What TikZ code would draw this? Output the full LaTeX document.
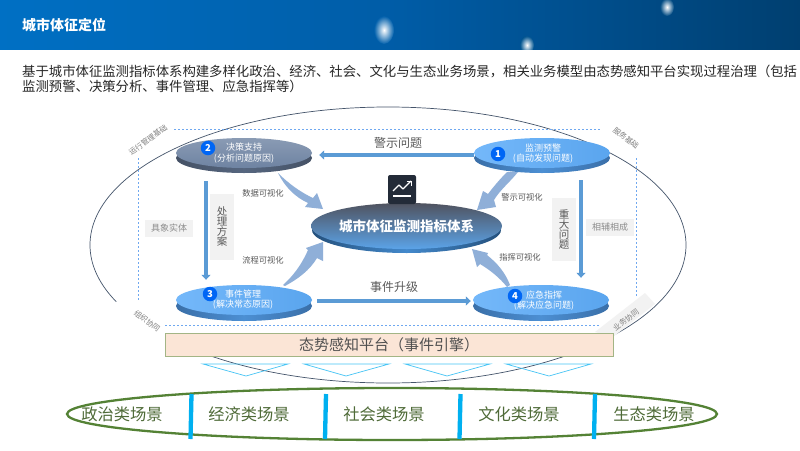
\documentclass[tikz,border=0pt]{standalone}
\usepackage{fontspec}
\setmainfont{Noto Sans CJK SC}
\usetikzlibrary{shapes.geometric,arrows.meta,calc}
\definecolor{flow}{HTML}{5B9BD5}
\definecolor{blockarrow}{HTML}{8FAFD8}
\definecolor{dotblue}{HTML}{6FA8F0}
\definecolor{greytxt}{HTML}{595959}
\definecolor{pale}{HTML}{F2F2F2}
\definecolor{scene}{HTML}{4F6B38}
\definecolor{barblue}{HTML}{00B0F0}
\definecolor{cyantriline}{HTML}{45C4F5}
\definecolor{HeaderA}{HTML}{0070C4}
\definecolor{HeaderM}{HTML}{005CA6}
\definecolor{HeaderB}{HTML}{003F70}
\definecolor{HeaderS1}{HTML}{005FAB}
\definecolor{HeaderS2}{HTML}{00538F}
\definecolor{HeaderS3}{HTML}{004A82}
\definecolor{HeaderRing}{HTML}{44546A}
\definecolor{RimGrey}{HTML}{56667F}
\definecolor{DiscGreyA}{HTML}{8A9BB4}
\definecolor{DiscGreyB}{HTML}{6E83A2}
\definecolor{RimBlue}{HTML}{4C8FD3}
\definecolor{RimEdge}{HTML}{3A6FA8}
\definecolor{DiscBlueA}{HTML}{74B8FA}
\definecolor{DiscBlueB}{HTML}{5AA5EE}
\definecolor{CentreRim}{HTML}{4389CC}
\definecolor{CentreRimEdge}{HTML}{24507C}
\definecolor{CentreA}{HTML}{50535F}
\definecolor{CentreB}{HTML}{5BA3E8}
\definecolor{IconDark}{HTML}{232B38}
\definecolor{BadgeBlue}{HTML}{0066F5}
\definecolor{PlatformEdge}{HTML}{A3B585}
\definecolor{PlatformFill}{HTML}{FBE5D6}
\definecolor{SceneGreen}{HTML}{548235}
\tikzset{
  x=1pt,y=-1pt,
  disc/.style={ellipse,minimum width=136,minimum height=30,inner sep=0,draw=none},
  rimgrey/.style={disc,left color=RimGrey!80!black,right color=RimGrey!80!black,middle color=RimGrey},
  rimblue/.style={disc,left color=RimEdge,right color=RimEdge,middle color=RimBlue},
  disctext/.style={text=white,font=\fontsize{9}{10.5}\selectfont,align=center,inner sep=0},
  badge/.style={circle,fill=BadgeBlue,text=white,minimum size=14.5,inner sep=0,font=\fontsize{9.5}{10}\selectfont\bfseries},
  flowarrow/.style={draw=flow,line width=4.2,-{Triangle[length=5,width=9]}},
  blockfill/.style={fill=blockarrow,draw=none},
  smalllabel/.style={text=greytxt,font=\fontsize{8.3}{9}\selectfont,inner sep=0},
  sidebox/.style={fill=pale,text=black!45,font=\fontsize{9}{10}\selectfont,minimum width=48,minimum height=17,inner sep=0},
  vbox/.style={fill=pale,text=greytxt,font=\fontsize{10.5}{10}\selectfont,minimum width=24,inner sep=0,align=center},
  cornerlabel/.style={text=black!50,font=\fontsize{7.5}{8}\selectfont,inner sep=0},
  dotline/.style={draw=dotblue,line width=.8,dash pattern=on 2pt off 2pt},
  cyantri/.style={draw=cyantriline,line width=.7},
  scenelabel/.style={text=scene,font=\fontsize{16.3}{18}\selectfont,inner sep=0},
  bar/.style={draw=barblue,line width=4.3},
}
\begin{document}
\begin{tikzpicture}
\useasboundingbox (0,0) rectangle (800,450);
\fill[white] (0,0) rectangle (800,450);
% header
\begin{scope}
\clip (0,0) rectangle (800,49.5);
\fill[left color=HeaderA,right color=HeaderB,middle color=HeaderM] (0,0) rectangle (800,49.5);
\shade[inner color=white,outer color=HeaderS1] (384,30) ellipse (10 and 14);
\shade[inner color=white,outer color=HeaderS2] (527,45) ellipse (7 and 9);
\shade[inner color=white,outer color=HeaderS3] (667,7) ellipse (7 and 9);
\end{scope}
\node[anchor=west,text=white,font=\fontsize{14}{16}\selectfont\bfseries,inner sep=0] (title) at (22,25) {城市体征定位};
\node[anchor=north west,text=black!85,font=\fontsize{13.36}{15}\selectfont,inner sep=0,text width=790,align=left] (intro) at (22,65) {基于城市体征监测指标体系构建多样化政治、经济、社会、文化与生态业务场景，相关业务模型由态势感知平台实现过程治理（包括\\监测预警、决策分析、事件管理、应急指挥等）};
% big ellipse
\draw[draw=HeaderRing,line width=.7] (388,245) ellipse (298 and 138);
\fill[white] (108,310) -- (126,292) -- (180,328) -- (165,345) -- cycle;
\fill[pale] (595,332) -- (645,293) -- (655,304) -- (613,337) -- cycle;
% dotted frame
\draw[dotline] (174,129) -- (601,129);
\draw[dotline] (138,158) -- (138,301);
\draw[dotline] (636,158) -- (636,297);
\draw[dotline] (165,325) -- (600,325);
% corner labels
\node[cornerlabel,rotate=36] (c1) at (148,140) {运行管理基础};
\node[cornerlabel,rotate=-38] (c2) at (626,138) {服务基础};
\node[cornerlabel,rotate=-37] (c3) at (147,321) {组织协同};
\node[cornerlabel,rotate=37] (c4) at (626,320) {业务协同};
% discs
\node[rimgrey] (r2) at (244,158) {};
\node[disc,top color=DiscGreyA,bottom color=DiscGreyB] (n2) at (244,153) {};
\node[rimblue] (r1) at (542,158) {};
\node[disc,left color=DiscBlueA,right color=DiscBlueB] (n1) at (542,153) {};
\node[rimblue] (r3) at (244,306) {};
\node[disc,left color=DiscBlueA,right color=DiscBlueB] (n3) at (244,300) {};
\node[rimblue] (r4) at (541,306) {};
\node[disc,left color=DiscBlueA,right color=DiscBlueB] (n4) at (541,300) {};
% centre
\node[ellipse,minimum width=189,minimum height=46,inner sep=0,left color=CentreRimEdge,right color=CentreRimEdge,middle color=CentreRim] (rc) at (406.5,230) {};
\node[ellipse,minimum width=189,minimum height=46,inner sep=0,top color=CentreA,bottom color=CentreB,text=white,font=\fontsize{13.5}{15}\selectfont\bfseries] (centre) at (406.5,226) {城市体征监测指标体系};
% icon
\node[rounded corners=2,fill=IconDark,minimum width=28,minimum height=29,inner sep=0] (icon) at (402,189.5) {};
\draw[white,line width=1.1,line join=round] (393,191) -- (399,185) -- (403,189) -- (411,181);
\draw[white,line width=.9] (406.5,181) -- (411,181) -- (411,185.5);
\draw[white,line width=1.1] (393,196) -- (411,196);
% disc text
\node[disctext] (t2) at (244,153) {决策支持\\(分析问题原因)};
\node[disctext] (t1) at (543,153.5) {监测预警\\(自动发现问题)};
\node[disctext] (t3) at (243,299.5) {事件管理\\(解决常态原因)};
\node[disctext] (t4) at (544,300.5) {应急指挥\\(解决应急问题)};
\node[badge] (b2) at (208,148) {2};
\node[badge] (b1) at (498,154) {1};
\node[badge] (b3) at (210,294) {3};
\node[badge] (b4) at (515,296) {4};
% flow arrows
\draw[flowarrow] ([yshift=-2pt]n1.west) -- ([xshift=7pt,yshift=-2pt]n2.east);
\draw[flowarrow] ([xshift=5pt,yshift=-1pt]n3.east) -- ([xshift=-2pt,yshift=-1pt]n4.west);
\draw[flowarrow] ([xshift=-38pt,yshift=-8pt]r2.south) -- ([xshift=-38pt,yshift=5pt]n3.north);
\draw[flowarrow] ([xshift=39pt,yshift=-7pt]r1.south) -- ([xshift=40pt,yshift=7pt]n4.north);
% vertical boxes
\node[vbox,minimum height=66] (v1) at (222,227) {处\\理\\方\\案};
\node[vbox,minimum height=63] (v2) at (564,229.5) {重\\大\\问\\题};
\node[sidebox] (s1) at (169,228.5) {具象实体};
\node[sidebox] (s2) at (610,227.5) {相辅相成};
% labels
\node[text=greytxt,font=\fontsize{12}{14}\selectfont,inner sep=0] (l1) at (398,143) {警示问题};
\node[text=greytxt,font=\fontsize{12}{14}\selectfont,inner sep=0] (l2) at (394,287) {事件升级};
\node[smalllabel] (m1) at (263,193) {数据可视化};
\node[smalllabel] (m2) at (522,197) {警示可视化};
\node[smalllabel] (m3) at (263,260) {流程可视化};
\node[smalllabel] (m4) at (520,257) {指挥可视化};
% block arrows
\path[blockfill] (278,173) .. controls (288,183) and (300,192) .. (313,198) -- (317,193) -- (323,209) -- (305,207) -- (308,203) .. controls (295,197) and (285,187) .. (278,173) -- cycle;
\path[blockfill] (518,172) .. controls (510,182) and (500,190) .. (494,200) -- (496,207) -- (477,210) -- (483,191) -- (488,194) .. controls (494,186) and (501,178) .. (507,172) -- cycle;
\path[blockfill] (283,285) .. controls (292,277) and (301,266) .. (308,250) -- (306,248) -- (323,242) -- (323,261) -- (317,258) .. controls (310,270) and (298,279) .. (285,286) -- cycle;
\path[blockfill] (510,285) .. controls (505,272) and (497,263) .. (487,255) -- (488,253) -- (472,249) -- (477,267) -- (480,264) .. controls (490,270) and (500,278) .. (507,287) -- cycle;
% platform
\node[draw=PlatformEdge,line width=.9,fill=PlatformFill,minimum width=448,minimum height=23,inner sep=0,text=greytxt!90!black,font=\fontsize{15}{17}\selectfont] (platform) at (389,344.5) {态势感知平台（事件引擎）};
% cyan triangles
\draw[cyantri] (203,364) -- (288,364) -- (246,376) -- cycle;
\draw[cyantri] (304,364) -- (389,364) -- (346,376) -- cycle;
\draw[cyantri] (405,364) -- (490,364) -- (447,376) -- cycle;
\draw[cyantri] (506,364) -- (591,364) -- (549,376) -- cycle;
% scenes
\draw[draw=SceneGreen,line width=2.3] (392,414) ellipse (325 and 26);
\node[scenelabel] (a1) at (122,414) {政治类场景};
\node[scenelabel] (a2) at (249,414) {经济类场景};
\node[scenelabel] (a3) at (384,414) {社会类场景};
\node[scenelabel] (a4) at (519,414) {文化类场景};
\node[scenelabel] (a5) at (654,414) {生态类场景};
\draw[bar] (191.5,394) -- (190.5,439);
\draw[bar] (326,394) -- (325,439);
\draw[bar] (460.5,394) -- (459.5,439);
\draw[bar] (595,394) -- (594,439);
\end{tikzpicture}
\end{document}
